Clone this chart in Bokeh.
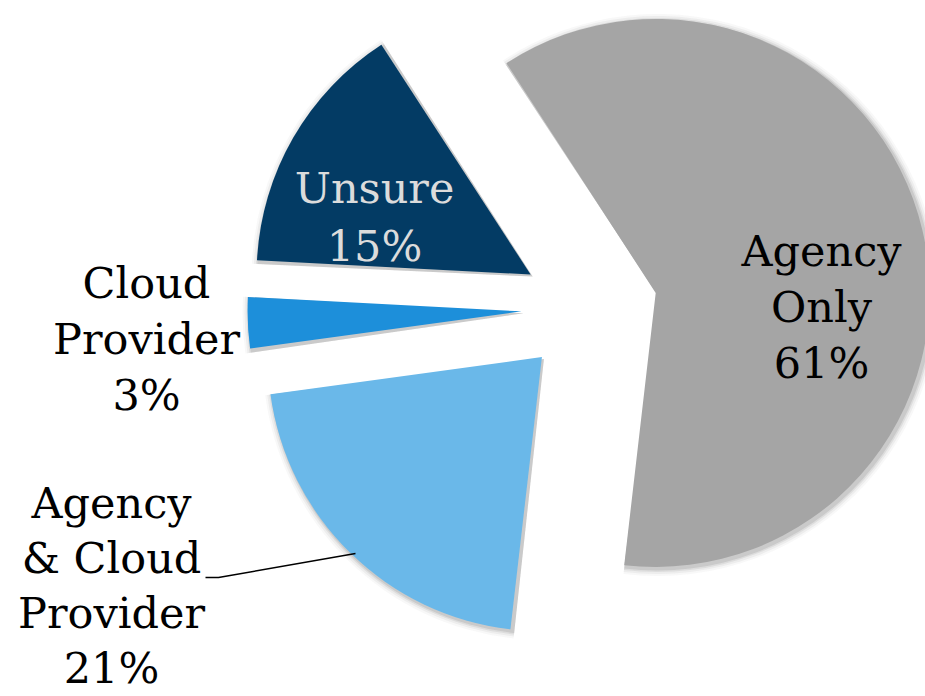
import numpy as np
from bokeh.plotting import figure
from bokeh.models import Range1d, ColumnDataSource
from bokeh.core.properties import value
from bokeh.embed import file_html
from bokeh.resources import INLINE

# ---- data ----
categories = ["Agency Only", "Agency & Cloud Provider", "Cloud Provider", "Unsure"]
percents = [61, 21, 3, 15]
colors = ["#A5A5A5", "#6AB8E9", "#1D8FDA", "#033B64"]
label_lines = [["Agency", "Only", "61%"],
               ["Agency", "& Cloud", "Provider", "21%"],
               ["Cloud", "Provider", "3%"],
               ["Unsure", "15%"]]
label_colors = ["#000000", "#000000", "#000000", "#DCDCDC"]

# ---- layout (pixel space, y measured upward from page bottom) ----
W, H = 925, 696
cx, cy = 589, H - 308
R = 274
EXPLODE = 68
START_DEG = 123
# label anchor (x, y of first line centre, screen coords) and line spacing
label_pos = [(821, 250), (111, 502), (146, 282), (374, 187)]
label_steps = [56, 55, 56, 58]
FONT = "DejaVu Serif"
FONT_SIZE = "43px"

vals = np.array(percents, dtype=float)
frac = vals / vals.sum()
span = frac * 360.0
ends = START_DEG - np.cumsum(span)
starts = ends + span
mids = np.radians((starts + ends) / 2.0)
ax = cx + EXPLODE * np.cos(mids)
ay = cy + EXPLODE * np.sin(mids)

p = figure(width=W, height=H, output_backend="svg", toolbar_location=None,
           x_range=Range1d(0, W), y_range=Range1d(0, H),
           min_border=0, x_axis_type=None, y_axis_type=None)
p.grid.visible = False
p.outline_line_color = None
p.background_fill_color = "white"
p.border_fill_color = "white"

src = ColumnDataSource(dict(x=ax, y=ay, start=np.radians(ends), end=np.radians(starts),
                            color=colors, name=categories))

# soft shadow / glow
for k, a in [(7, 0.04), (5, 0.06), (3, 0.09), (1.5, 0.12)]:
    p.wedge(x=[v + 2 for v in ax], y=[v - 2 for v in ay], radius=R + k,
            start_angle=np.radians(ends - 0.4), end_angle=np.radians(starts + 0.4),
            direction="anticlock", fill_color="#404040", fill_alpha=a, line_color=None)

p.wedge(x="x", y="y", radius=R, start_angle="start", end_angle="end",
        direction="anticlock", fill_color="color", line_color=None, source=src)

# leader line for Agency & Cloud Provider
p.line(x=[205, 218, 355], y=[H - 577, H - 577, H - 553],
       line_color="black", line_width=1.5)

# labels
tx, ty, tt, tc = [], [], [], []
for lines, (lx, ly), step, col in zip(label_lines, label_pos, label_steps, label_colors):
    for i, t in enumerate(lines):
        tx.append(lx)
        ty.append(H - (ly + i * step))
        tt.append(t)
        tc.append(col)
p.text(x=tx, y=ty, text=tt, text_color=tc, text_align="center",
       text_baseline="middle", text_font=value(FONT), text_font_size=FONT_SIZE)

open("out.html", "w").write(file_html(p, INLINE))
